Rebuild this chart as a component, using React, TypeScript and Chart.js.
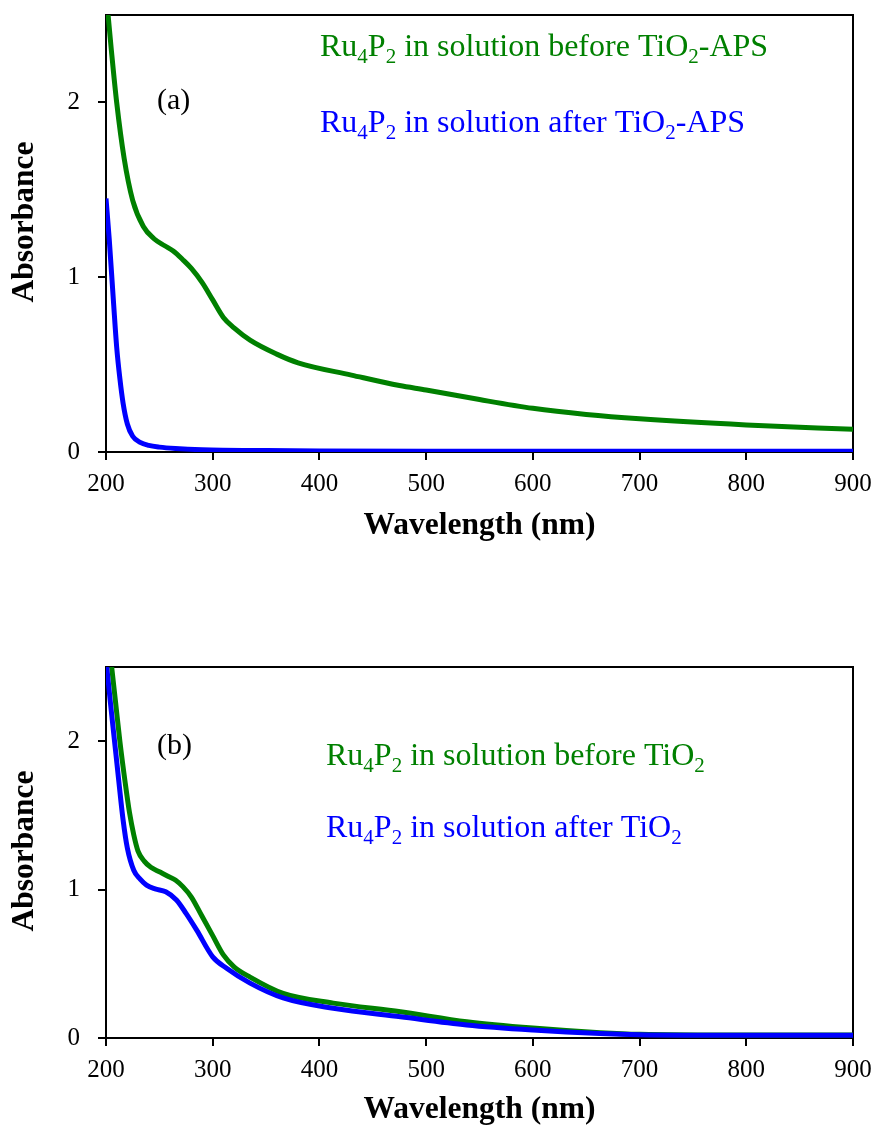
import React, { useEffect, useRef } from "react";
import { Chart, registerables } from "chart.js";

Chart.register(...registerables);

// ---------- Data ----------
const wlA_before = [200, 205, 210, 217, 225, 235, 245, 255, 263, 272, 280, 290, 300, 310, 320, 335, 360, 380, 430, 475, 500, 550, 600, 650, 700, 800, 900];
const absA_before = [2.63, 2.3, 2.0, 1.68, 1.44, 1.29, 1.22, 1.18, 1.15, 1.1, 1.05, 0.97, 0.87, 0.77, 0.71, 0.64, 0.56, 0.51, 0.44, 0.38, 0.355, 0.3, 0.25, 0.215, 0.19, 0.155, 0.13];

const wlA_after = [200, 203, 207, 210, 213, 216, 220, 225, 232, 240, 250, 265, 290, 350, 400, 500, 600, 700, 800, 900];
const absA_after = [1.45, 1.22, 0.86, 0.6, 0.42, 0.28, 0.16, 0.09, 0.055, 0.038, 0.028, 0.02, 0.013, 0.008, 0.006, 0.005, 0.005, 0.004, 0.004, 0.004];

const wlB_before = [200, 205, 209, 213, 218, 222, 226, 230, 236, 242, 250, 258, 265, 272, 280, 290, 300, 310, 320, 335, 366, 413, 476, 538, 600, 663, 700, 800, 900];
const absB_before = [2.85, 2.52, 2.26, 2.0, 1.72, 1.52, 1.37, 1.26, 1.19, 1.15, 1.12, 1.09, 1.065, 1.02, 0.95, 0.82, 0.69, 0.56, 0.48, 0.41, 0.3, 0.235, 0.177, 0.11, 0.067, 0.036, 0.025, 0.02, 0.02];

const wlB_after = [200, 204, 208, 212, 216, 220, 226, 232, 238, 246, 256, 266, 275, 285, 300, 313, 335, 366, 413, 476, 538, 600, 663, 700, 800, 900];
const absB_after = [2.55, 2.27, 2.0, 1.73, 1.47, 1.28, 1.13, 1.07, 1.03, 1.005, 0.985, 0.93, 0.84, 0.727, 0.547, 0.47, 0.37, 0.27, 0.2, 0.143, 0.088, 0.054, 0.03, 0.022, 0.018, 0.018];

const xTicks = [200, 300, 400, 500, 600, 700, 800, 900];
const yTicks = [0, 1, 2];

const GREEN = "#008000";
const BLUE = "#0000ff";
const SERIF = "'Liberation Serif', 'Times New Roman', serif";

type Seg = { t: string; sub?: boolean };
type Label = { x: number; y: number; color: string; segs: Seg[] };

const labelsA: Label[] = [
  { x: 320, y: 56, color: GREEN, segs: [{ t: "Ru" }, { t: "4", sub: true }, { t: "P" }, { t: "2", sub: true }, { t: " in solution before TiO" }, { t: "2", sub: true }, { t: "-APS" }] },
  { x: 320, y: 132, color: BLUE, segs: [{ t: "Ru" }, { t: "4", sub: true }, { t: "P" }, { t: "2", sub: true }, { t: " in solution after TiO" }, { t: "2", sub: true }, { t: "-APS" }] },
];
const labelsB: Label[] = [
  { x: 326, y: 765, color: GREEN, segs: [{ t: "Ru" }, { t: "4", sub: true }, { t: "P" }, { t: "2", sub: true }, { t: " in solution before TiO" }, { t: "2", sub: true }] },
  { x: 326, y: 837, color: BLUE, segs: [{ t: "Ru" }, { t: "4", sub: true }, { t: "P" }, { t: "2", sub: true }, { t: " in solution after TiO" }, { t: "2", sub: true }] },
];

function toPoints(xs: number[], ys: number[]) {
  return xs.map((x, i) => ({ x, y: ys[i] }));
}

function zeroPad(s: any) {
  s.paddingTop = 0;
  s.paddingBottom = 0;
  s.paddingLeft = 0;
  s.paddingRight = 0;
}

function makeChart(
  canvas: HTMLCanvasElement,
  canvasTop: number,
  panel: string,
  panelY: number,
  yTitleY: number,
  labels: Label[],
  before: { x: number; y: number }[],
  after: { x: number; y: number }[],
  padTop: number,
  xAxisHeight: number,
  xTitlePadBottom: number
) {
  const overlay = {
    id: "overlay" + panel,
    beforeDatasetsDraw(chart: any) {
      const { ctx, chartArea } = chart;
      ctx.save();
      ctx.strokeStyle = "#000";
      ctx.lineWidth = 2;
      ctx.beginPath();
      ctx.moveTo(chartArea.left, chartArea.top);
      ctx.lineTo(chartArea.right, chartArea.top);
      ctx.lineTo(chartArea.right, chartArea.bottom);
      ctx.stroke();
      ctx.restore();
    },
    afterDraw(chart: any) {
      const { ctx } = chart;
      ctx.save();
      // y axis title
      ctx.save();
      ctx.translate(25, yTitleY - canvasTop);
      ctx.rotate(-Math.PI / 2);
      ctx.fillStyle = "#000";
      ctx.font = `bold 31.5px ${SERIF}`;
      ctx.textAlign = "center";
      ctx.textBaseline = "middle";
      ctx.fillText("Absorbance", 0, 0);
      ctx.restore();
      // panel label
      ctx.fillStyle = "#000";
      ctx.font = `30px ${SERIF}`;
      ctx.textBaseline = "middle";
      ctx.textAlign = "left";
      ctx.fillText(panel, 157, panelY - canvasTop);
      for (const lab of labels) {
        let x = lab.x;
        const base = lab.y - canvasTop;
        ctx.fillStyle = lab.color;
        ctx.textBaseline = "alphabetic";
        for (const s of lab.segs) {
          if (s.sub) {
            ctx.font = `21px ${SERIF}`;
            ctx.fillText(s.t, x, base + 7);
          } else {
            ctx.font = `32px ${SERIF}`;
            ctx.fillText(s.t, x, base);
          }
          x += ctx.measureText(s.t).width;
        }
      }
      ctx.restore();
    },
  };

  return new Chart(canvas, {
    type: "line",
    data: {
      datasets: [
        {
          label: "after",
          data: after,
          borderColor: BLUE,
          backgroundColor: BLUE,
          borderWidth: 5,
          pointRadius: 0,
          tension: 0.4,
          cubicInterpolationMode: "monotone",
          fill: false,
        },
        {
          label: "before",
          data: before,
          borderColor: GREEN,
          backgroundColor: GREEN,
          borderWidth: 5,
          pointRadius: 0,
          tension: 0.4,
          cubicInterpolationMode: "monotone",
          fill: false,
        },
      ],
    },
    options: {
      responsive: false,
      animation: false,
      devicePixelRatio: 1,
      layout: { padding: { left: 0, top: padTop, right: 22, bottom: 0 } },
      plugins: { legend: { display: false }, tooltip: { enabled: false } },
      scales: {
        x: {
          type: "linear",
          min: 200,
          max: 900,
          afterBuildTicks: (s: any) => {
            s.ticks = xTicks.map((v) => ({ value: v }));
          },
          afterFit: (s: any) => {
            s.height = xAxisHeight;
            zeroPad(s);
          },
          ticks: {
            color: "#000",
            font: { family: SERIF, size: 25 },
            padding: 9,
            maxRotation: 0,
            autoSkip: false,
          },
          grid: { display: true, drawOnChartArea: false, drawTicks: true, tickLength: 8, color: "#000", lineWidth: 2 },
          border: { display: true, color: "#000", width: 2 },
          title: {
            display: true,
            text: "Wavelength (nm)",
            color: "#000",
            font: { family: SERIF, size: 31.5, weight: "bold" },
            padding: { top: 0, bottom: xTitlePadBottom },
          },
        },
        y: {
          type: "linear",
          min: 0,
          max: 2.5,
          afterBuildTicks: (s: any) => {
            s.ticks = yTicks.map((v) => ({ value: v }));
          },
          afterFit: (s: any) => {
            s.width = 106;
            zeroPad(s);
          },
          ticks: {
            color: "#000",
            font: { family: SERIF, size: 25 },
            padding: 18,
          },
          grid: { display: true, drawOnChartArea: false, drawTicks: true, tickLength: 8, color: "#000", lineWidth: 2 },
          border: { display: true, color: "#000", width: 2 },
          title: { display: false },
        },
      },
    },
    plugins: [overlay],
  } as any);
}

export default function App() {
  const refA = useRef<HTMLCanvasElement>(null);
  const refB = useRef<HTMLCanvasElement>(null);

  useEffect(() => {
    const c1 = makeChart(
      refA.current!,
      0,
      "(a)",
      101,
      222,
      labelsA,
      toPoints(wlA_before, absA_before),
      toPoints(wlA_after, absA_after),
      15,
      108,
      15
    );
    const c2 = makeChart(
      refB.current!,
      600,
      "(b)",
      746,
      851,
      labelsB,
      toPoints(wlB_before, absB_before),
      toPoints(wlB_after, absB_after),
      67,
      91,
      0
    );
    return () => {
      c1.destroy();
      c2.destroy();
    };
  }, []);

  return (
    <div style={{ position: "absolute", left: 0, top: 0, width: 875, height: 1129, background: "#fff" }}>
      <canvas ref={refA} width={875} height={560} style={{ position: "absolute", left: 0, top: 0, width: 875, height: 560 }} />
      <canvas ref={refB} width={875} height={529} style={{ position: "absolute", left: 0, top: 600, width: 875, height: 529 }} />
    </div>
  );
}
